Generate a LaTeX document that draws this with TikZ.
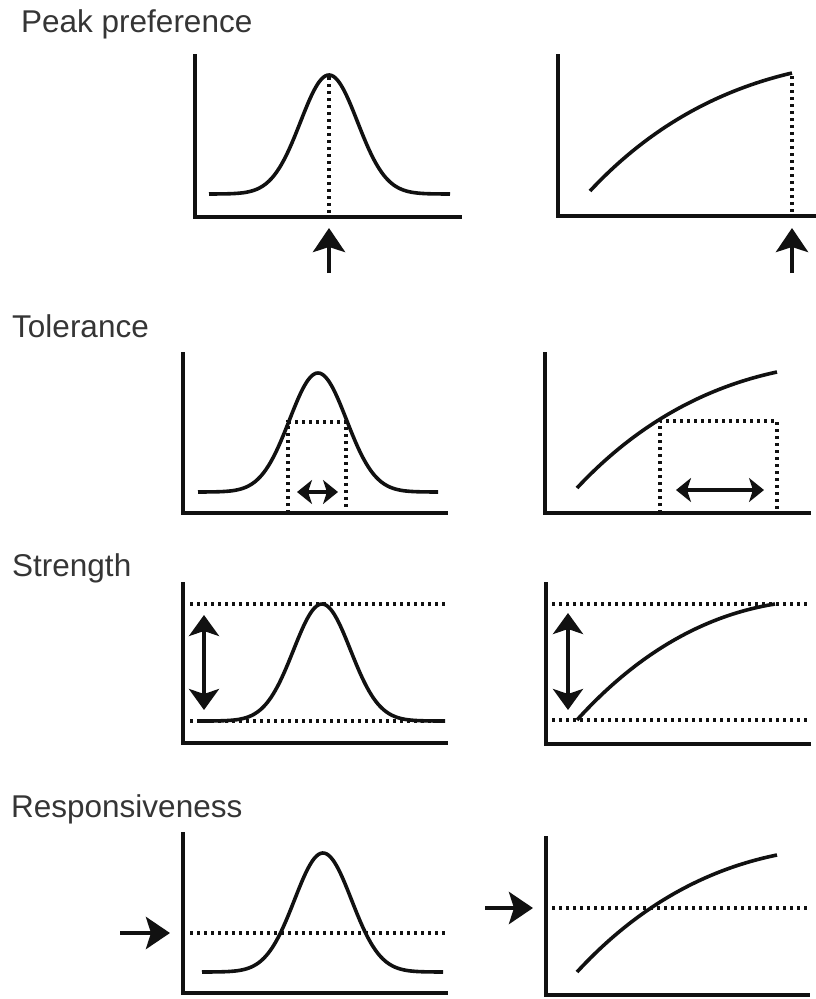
\documentclass[tikz,border=0pt]{standalone}
\usepackage{fontspec}
\setmainfont{Liberation Sans}
\usetikzlibrary{arrows.meta}
\definecolor{ink}{HTML}{111111}
\begin{document}
\begin{tikzpicture}[x=1pt,y=-1pt,color=ink,
  axisline/.style={line width=3.6pt,line join=miter},
  curve/.style={line width=3.6pt},
  dots/.style={line width=3.2pt,dash pattern=on 3.2pt off 3.8pt},
  bigarrow/.style={line width=4.5pt,-{Stealth[length=24pt,width=32pt,inset=5pt]}},
  tolarrow/.style={line width=3.6pt,{Stealth[length=15pt,width=24pt,inset=4pt]}-{Stealth[length=15pt,width=24pt,inset=4pt]}},
  strarrow/.style={line width=4.5pt,{Stealth[length=21pt,width=30pt,inset=5pt]}-{Stealth[length=21pt,width=30pt,inset=5pt]}},
  lab/.style={anchor=base west,inner sep=0pt,text=ink!85!white,font=\fontsize{31.5}{36}\selectfont}]
\useasboundingbox (0,0) rectangle (816,999);

% labels
\node[lab] (peak) at (21,32) {Peak preference};
\node[lab] (tol) at (12,337) {Tolerance};
\node[lab] (str) at (12,576) {Strength};
\node[lab] (resp) at (11,817) {Responsiveness};

% ---------- Peak preference, left
\draw[axisline] (195,54) -- (195,217) -- (462,217);
\draw[curve] plot[domain=-120:121,samples=121,smooth] ({329+\x},{194-119*exp(-(\x*\x)/1624)});
\draw[dots] (329,77) -- (329,217);
\draw[bigarrow] (329,273) -- (329,228);

% ---------- Peak preference, right
\draw[axisline] (558,54) -- (558,216) -- (816,216);
\draw[curve] (590,191) .. controls (646.7,130.3) and (713.7,91.3) .. (792,73);
\draw[dots] (792,76) -- (792,216);
\draw[bigarrow] (792,273) -- (792,228);

% ---------- Tolerance, left
\draw[axisline] (183,352) -- (183,513) -- (448,513);
\draw[curve] plot[domain=-120:120,samples=121,smooth] ({318+\x},{492-119*exp(-(\x*\x)/1624)});
\draw[dots] (288,513) -- (288,422) -- (346,422) -- (346,513);
\draw[tolarrow] (297,492) -- (338,492);

% ---------- Tolerance, right
\draw[axisline] (545,352) -- (545,513) -- (811,513);
\draw[curve] (577,488) .. controls (633.7,427.3) and (700.7,388.3) .. (777,372);
\draw[dots] (660,513) -- (660,421) -- (777,421) -- (777,513);
\draw[tolarrow] (676,490) -- (764,490);

% ---------- Strength, left
\draw[axisline] (183,582) -- (183,743) -- (448,743);
\draw[dots] (190,604) -- (447,604);
\draw[dots] (190,721) -- (447,721);
\draw[curve] plot[domain=-122:123,samples=121,smooth] ({322+\x},{721-117*exp(-(\x*\x)/1624)});
\draw[strarrow] (204,710) -- (204,615);

% ---------- Strength, right
\draw[axisline] (546,582) -- (546,744) -- (811,744);
\draw[dots] (552,604) -- (809,604);
\draw[dots] (552,720) -- (809,720);
\draw[curve] (577,720) .. controls (634,657) and (700,616) .. (775,604);
\draw[strarrow] (568,710) -- (568,613);

% ---------- Responsiveness, left
\draw[axisline] (183,832) -- (183,993) -- (448,993);
\draw[dots] (190,933) -- (447,933);
\draw[curve] plot[domain=-121:120,samples=121,smooth] ({323+\x},{972-119*exp(-(\x*\x)/1624)});
\draw[bigarrow] (120,933) -- (170,933);

% ---------- Responsiveness, right
\draw[axisline] (546,836) -- (546,995) -- (810,995);
\draw[dots] (552,908) -- (810,908);
\draw[curve] (577,972) .. controls (634.7,909.3) and (701.7,870.3) .. (777,855);
\draw[bigarrow] (485,908) -- (533,908);
\end{tikzpicture}
\end{document}
